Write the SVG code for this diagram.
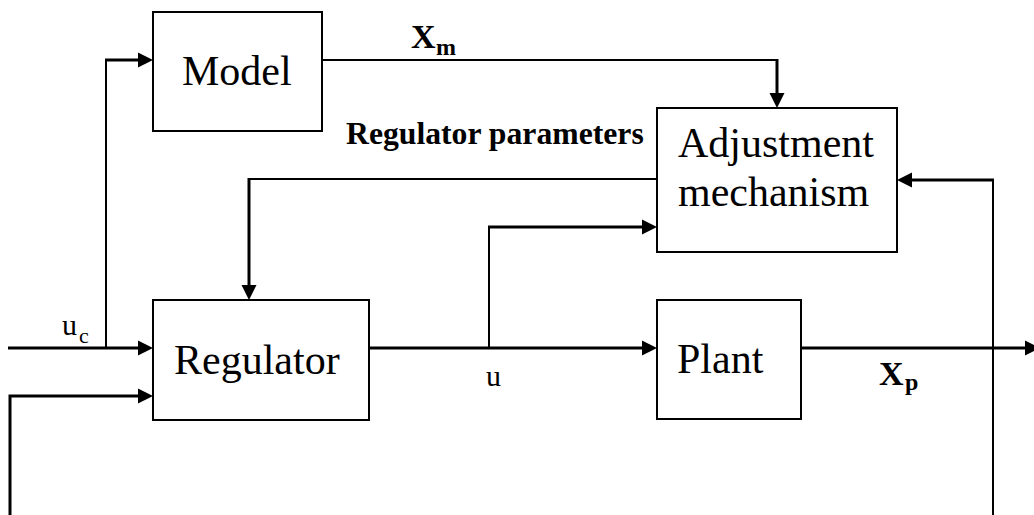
<svg xmlns="http://www.w3.org/2000/svg" width="1034" height="515" viewBox="0 0 1034 515">
<style>
.box{fill:#fff;stroke:#000;stroke-width:2}
.t{font-family:"Liberation Serif","Times New Roman",serif;font-size:42px;fill:#000}
.b{font-family:"Liberation Serif","Times New Roman",serif;font-weight:bold;fill:#000}
.s{font-family:"Liberation Serif","Times New Roman",serif;fill:#000}
.w{fill:none;stroke:#000;stroke-width:2}
.k{fill:none;stroke:#000;stroke-width:3}
</style>
<defs>
<marker id="ah" markerUnits="userSpaceOnUse" markerWidth="15" markerHeight="16" refX="0" refY="8" orient="auto" overflow="visible">
<path d="M0,0.5 L15,8 L0,15.5 z" fill="#000"/>
</marker>
</defs>
<rect width="1034" height="515" fill="#fff"/>
<g id="connectors">
<path class="k" d="M8 348 H138" marker-end="url(#ah)"/>
<path class="w" d="M106 348 V60"/>
<path class="k" d="M105 60 H138" marker-end="url(#ah)"/>
<path class="w" d="M322 60 H777"/>
<path class="k" d="M777 59 V93" marker-end="url(#ah)"/>
<path class="w" d="M657 179 H249"/>
<path class="k" d="M249 178 V285" marker-end="url(#ah)"/>
<path class="k" d="M369 348 H642" marker-end="url(#ah)"/>
<path class="w" d="M489 348 V227"/>
<path class="k" d="M488 227 H642" marker-end="url(#ah)"/>
<path class="k" d="M801 348 H1025" marker-end="url(#ah)"/>
<path class="w" d="M993 515 V180"/>
<path class="k" d="M994 180 H912" marker-end="url(#ah)"/>
<path class="k" d="M10 515 V396 H138" marker-end="url(#ah)"/>
</g>
<g id="model">
<rect class="box" x="153" y="12" width="169" height="119"/>
<text class="t" x="182" y="85">Model</text>
</g>
<g id="adjustment">
<rect class="box" x="657" y="108" width="240" height="144"/>
<text class="t" x="678" y="157">Adjustment</text>
<text class="t" x="678" y="206">mechanism</text>
</g>
<g id="regulator">
<rect class="box" x="153" y="300" width="216" height="120"/>
<text class="t" x="174" y="374">Regulator</text>
</g>
<g id="plant">
<rect class="box" x="657" y="300" width="144" height="119"/>
<text class="t" x="677" y="373">Plant</text>
</g>
<g id="labels">
<text class="b" x="411" y="48" font-size="34">X</text>
<text class="b" x="436" y="55" font-size="24">m</text>
<text class="b" x="346" y="144" font-size="31.7">Regulator parameters</text>
<text class="s" x="62" y="335" font-size="30">u</text>
<text class="s" x="79" y="343" font-size="22">c</text>
<text class="s" x="486" y="386" font-size="30">u</text>
<text class="b" x="879" y="385" font-size="34">X</text>
<text class="b" x="905" y="390" font-size="24">p</text>
</g>
</svg>
